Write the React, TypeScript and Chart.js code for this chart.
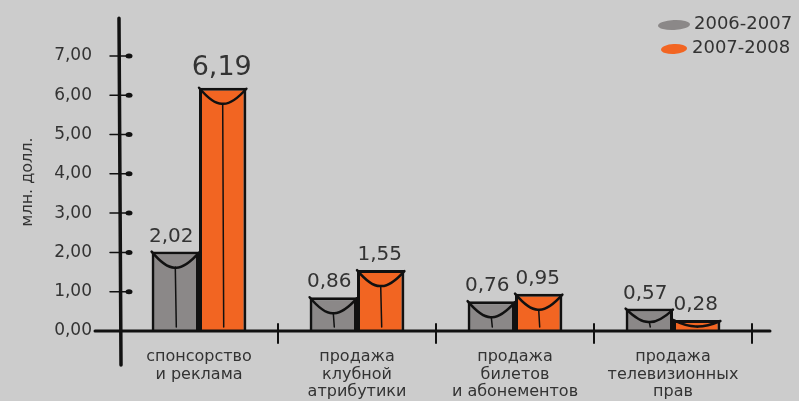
import React, { useEffect, useRef } from 'react';
import { Chart, registerables } from 'chart.js';

Chart.register(...registerables);

const categories: string[][] = [
  ['спонсорство', 'и реклама'],
  ['продажа', 'клубной', 'атрибутики'],
  ['продажа', 'билетов', 'и абонементов'],
  ['продажа', 'телевизионных', 'прав'],
];
const seriesLabels = ['2006-2007', '2007-2008'];
const values0607 = [2.02, 0.86, 0.76, 0.57];
const values0708 = [6.19, 1.55, 0.95, 0.28];
const yTickValues = [0, 1, 2, 3, 4, 5, 6, 7];
const yTitle = 'млн. долл.';

const GRAY = '#8b8888';
const ORANGE = '#f26522';
const INK = '#111111';
const TEXT = '#333333';
const FONT = '"DejaVu Sans", Verdana, sans-serif';

const fmt = (v: number) => v.toFixed(2).replace('.', ',');

const decorPlugin = {
  id: 'decor',
  afterDatasetsDraw(chart: any) {
    const ctx = chart.ctx as CanvasRenderingContext2D;
    const { left, right, top, bottom } = chart.chartArea;
    const y = chart.scales.y;
    ctx.save();
    ctx.strokeStyle = INK;
    ctx.fillStyle = INK;
    ctx.lineCap = 'round';

    // prism lines inside bars
    chart.data.datasets.forEach((ds: any, di: number) => {
      const meta = chart.getDatasetMeta(di);
      meta.data.forEach((bar: any) => {
        const w = bar.width;
        const l = bar.x - w / 2;
        const r = bar.x + w / 2;
        const h = bar.base - bar.y;
        const depth = Math.min(16, h * 0.6);
        ctx.lineWidth = 2.5;
        ctx.beginPath();
        ctx.moveTo(l, bar.y);
        ctx.quadraticCurveTo(bar.x - w * 0.2, bar.y + depth * 1.05, bar.x, bar.y + depth);
        ctx.quadraticCurveTo(bar.x + w * 0.2, bar.y + depth * 1.05, r, bar.y + 1);
        ctx.stroke();
        ctx.lineWidth = 1.5;
        ctx.beginPath();
        ctx.moveTo(bar.x, bar.y + depth);
        ctx.lineTo(bar.x + 1, bar.base - 4);
        ctx.stroke();
      });
    });

    // x axis line
    ctx.lineWidth = 3;
    ctx.beginPath();
    ctx.moveTo(left - 25, bottom);
    ctx.lineTo(right + 18, bottom);
    ctx.stroke();

    // y axis line
    ctx.lineWidth = 3.5;
    ctx.beginPath();
    ctx.moveTo(left - 1, top - 20);
    ctx.lineTo(left + 1, bottom + 34);
    ctx.stroke();

    // y tick marks
    yTickValues.forEach((v) => {
      const py = y.getPixelForValue(v);
      if (v === 0) return;
      ctx.lineWidth = 1.5;
      ctx.beginPath();
      ctx.moveTo(left - 10, py);
      ctx.lineTo(left + 10, py);
      ctx.stroke();
      ctx.beginPath();
      ctx.ellipse(left + 9, py, 3.5, 2.5, 0, 0, Math.PI * 2);
      ctx.fill();
    });

    // category boundary marks
    const n = categories.length;
    const step = (right - left) / n;
    for (let i = 1; i <= n; i++) {
      const px = left + i * step;
      ctx.lineWidth = 2;
      ctx.beginPath();
      ctx.moveTo(px, bottom - 7);
      ctx.lineTo(px, bottom + 12);
      ctx.stroke();
    }

    // value labels
    ctx.fillStyle = TEXT;
    ctx.textAlign = 'center';
    ctx.textBaseline = 'alphabetic';
    const maxVal = Math.max(...values0607, ...values0708);
    chart.data.datasets.forEach((ds: any, di: number) => {
      const meta = chart.getDatasetMeta(di);
      meta.data.forEach((bar: any, i: number) => {
        const v = ds.data[i];
        const size = v === maxVal ? 27 : 20;
        ctx.font = `${size}px ${FONT}`;
        ctx.fillText(fmt(v), bar.x - (di === 0 ? 4 : 1), bar.y - (v === maxVal ? 13 : 10));
      });
    });

    // y title
    ctx.save();
    ctx.translate(28, 182);
    ctx.rotate(-Math.PI / 2);
    ctx.font = `16px ${FONT}`;
    ctx.textAlign = 'center';
    ctx.textBaseline = 'middle';
    ctx.fillText(yTitle, 0, 0);
    ctx.restore();

    // legend
    const colors = [GRAY, ORANGE];
    seriesLabels.forEach((lab, i) => {
      const ly = 25 + i * 24;
      ctx.fillStyle = colors[i];
      ctx.beginPath();
      ctx.ellipse(674, ly, i === 0 ? 16 : 13, 5, -0.05, 0, Math.PI * 2);
      ctx.fill();
      ctx.fillStyle = TEXT;
      ctx.font = `18px ${FONT}`;
      ctx.textAlign = 'left';
      ctx.textBaseline = 'middle';
      ctx.fillText(lab, i === 0 ? 694 : 692, ly - 1);
    });
    ctx.restore();
  },
};

export default function App() {
  const ref = useRef<HTMLCanvasElement>(null);
  useEffect(() => {
    document.body.style.margin = '0';
    const canvas = ref.current!;
    const chart = new Chart(canvas, {
      type: 'bar',
      data: {
        labels: categories as any,
        datasets: [
          {
            label: seriesLabels[0],
            data: values0607,
            backgroundColor: GRAY,
            borderColor: INK,
            borderWidth: 3,
          },
          {
            label: seriesLabels[1],
            data: values0708,
            backgroundColor: ORANGE,
            borderColor: INK,
            borderWidth: 3,
          },
        ],
      },
      options: {
        animation: false,
        responsive: false,
        maintainAspectRatio: false,
        layout: { padding: { top: 14, right: 47, left: 0, bottom: 0 } },
        datasets: { bar: { categoryPercentage: 0.6, barPercentage: 1 } },
        plugins: {
          legend: { display: false },
          tooltip: { enabled: false },
        },
        scales: {
          x: {
            type: 'category',
            offset: true,
            grid: { display: false, drawTicks: false },
            border: { display: false },
            afterFit: (s: any) => {
              s.height = 70;
            },
            ticks: {
              autoSkip: false,
              maxRotation: 0,
              minRotation: 0,
              padding: 17,
              color: TEXT,
              font: { family: FONT, size: 16, lineHeight: 1.1 },
            },
          },
          y: {
            min: 0,
            max: 7.45,
            grid: { display: false, drawTicks: false },
            border: { display: false },
            afterFit: (s: any) => {
              s.width = 120;
            },
            afterBuildTicks: (s: any) => {
              s.ticks = yTickValues.map((v) => ({ value: v }));
            },
            ticks: {
              padding: 28,
              color: TEXT,
              font: { family: FONT, size: 17 },
              callback: (v: any) => fmt(Number(v)),
            },
          },
        },
      },
      plugins: [decorPlugin],
    });
    return () => chart.destroy();
  }, []);
  return (
    <div style={{ width: 799, height: 401, background: '#cccccc' }}>
      <canvas ref={ref} width={799} height={401} style={{ display: 'block' }} />
    </div>
  );
}
